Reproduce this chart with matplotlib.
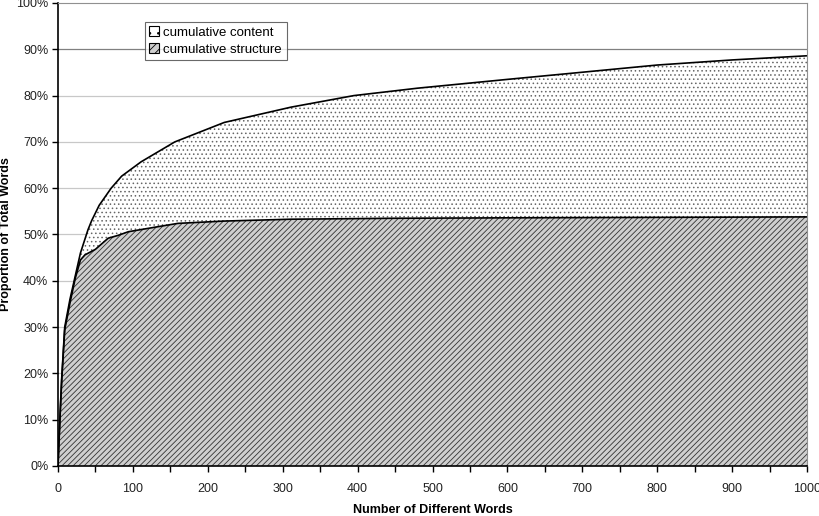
import matplotlib
matplotlib.use("Agg")
import matplotlib.pyplot as plt
from matplotlib.patches import Patch
from matplotlib.ticker import MultipleLocator, PercentFormatter

plt.rcParams['font.family'] = ['Liberation Sans', 'DejaVu Sans']
plt.rcParams['hatch.linewidth'] = 0.6

# values (number of words, proportion in %)
total_x = [0, 3, 5, 9, 16, 23, 30, 40, 45, 55, 71, 85, 111, 156, 222, 311,
           395, 480, 600, 697, 800, 900, 1000]
total_y = [0, 12, 19, 30, 36, 41, 46, 51, 53, 56.3, 60, 62.6, 65.7, 70, 74.2,
           77.5, 80, 81.6, 83.5, 85, 86.6, 87.7, 88.6]

struct_x = [0, 3, 5, 9, 16, 23, 30, 36, 50, 67, 80, 94, 134, 160, 222, 311,
            445, 600, 800, 1000]
struct_y = [0, 11.4, 18.6, 29.4, 35.2, 40.5, 44.5, 45.6, 46.8, 49.2, 49.8,
            50.6, 51.7, 52.4, 52.9, 53.3, 53.5, 53.6, 53.7, 53.8]

fig = plt.figure(figsize=(8.2, 5.16), dpi=100)
ax = fig.add_axes([0.0707, 0.0969, 0.9135, 0.8973])

ax.fill_between(total_x, 0, total_y, facecolor='white', edgecolor='#666666',
                hatch='....', linewidth=0, zorder=2)
ax.fill_between(struct_x, 0, struct_y, facecolor='#cfcfcf', edgecolor='#333333',
                hatch='//////', linewidth=0, zorder=3)
ax.plot(total_x, total_y, color='black', lw=1.2, zorder=4)
ax.plot(struct_x, struct_y, color='black', lw=1.2, zorder=4)

ax.set_xlim(0, 1000)
ax.set_ylim(0, 100)
ax.xaxis.set_major_locator(MultipleLocator(100))
ax.xaxis.set_minor_locator(MultipleLocator(50))
ax.yaxis.set_major_locator(MultipleLocator(10))
ax.yaxis.set_major_formatter(PercentFormatter(decimals=0))
ax.tick_params(axis='both', which='both', direction='out', length=4, width=1,
               labelsize=9, color='black', labelcolor='#222222')
ax.tick_params(axis='x', pad=8)
ax.tick_params(axis='y', pad=3)

for v in range(10, 100, 10):
    c = '#808080' if v == 90 else '#c8c8c8'
    ax.axhline(v, color=c, lw=0.9, zorder=1)

ax.spines['left'].set_color('black')
ax.spines['bottom'].set_color('black')
ax.spines['left'].set_linewidth(1.2)
ax.spines['bottom'].set_linewidth(1.2)
ax.spines['top'].set_color('#909090')
ax.spines['right'].set_color('#909090')
for s in ax.spines.values():
    s.set_zorder(5)

ax.set_xlabel('Number of Different Words', fontsize=9, fontweight='bold', labelpad=7)
ax.set_ylabel('Proportion of Total Words', fontsize=9, fontweight='bold')
ax.yaxis.set_label_coords(-0.061, 0.5)

handles = [Patch(facecolor='white', edgecolor='black', hatch='..', linewidth=0.8),
           Patch(facecolor='#cfcfcf', edgecolor='black', hatch='////', linewidth=0.8)]
labels = ['cumulative content', 'cumulative structure']
leg = ax.legend(handles, labels, loc='upper left', bbox_to_anchor=(0.116, 0.96),
                fontsize=9.5, frameon=True, fancybox=False, edgecolor='#444444',
                handlelength=0.75, handleheight=0.75, handletextpad=0.3,
                borderpad=0.35, labelspacing=0.35, borderaxespad=0)
leg.get_frame().set_linewidth(0.8)
leg.set_zorder(6)

fig.savefig('out.png', dpi=100)
